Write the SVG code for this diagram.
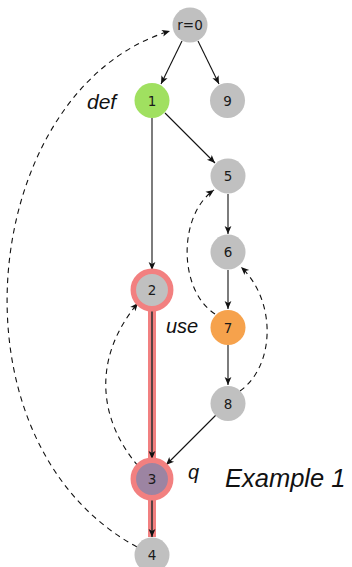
<svg xmlns="http://www.w3.org/2000/svg" width="352" height="567" viewBox="0 0 352 567">
  <style>
    .node { stroke: none; }
    .gray { fill: #c0c0c0; }
    .ring { stroke: #f28080; stroke-width: 5.5; }
    .nlabel { font-family: "DejaVu Sans", sans-serif; font-size: 13.5px; fill: #1a1a1a; text-anchor: middle; dominant-baseline: central; }
    .tag { font-family: "Liberation Sans", Arial, sans-serif; font-style: italic; fill: #111; }
    .edge { fill: none; stroke: #111; stroke-width: 1.1; }
    .dash { fill: none; stroke: #111; stroke-width: 1.1; stroke-dasharray: 5.5 4.5; }
    .band { fill: none; stroke: #f28080; stroke-width: 8; }
    .core { fill: none; stroke: #333; stroke-width: 1.6; }
  </style>
  <defs>
    <marker id="arrow" markerUnits="userSpaceOnUse" markerWidth="12" markerHeight="12" refX="8" refY="4" orient="auto" overflow="visible">
      <path d="M0,0.6 L8,4 L0,7.4 L2,4 Z" fill="#111"/>
    </marker>
  </defs>

  <!-- connectors -->
  <g id="edges">
    <!-- highlighted path 2 -> 3 -> 4 -->
    <line class="band" x1="152" y1="310" x2="152" y2="458"/>
    <line class="band" x1="152" y1="500" x2="152" y2="537"/>
    <line class="core" x1="152" y1="310" x2="152" y2="459" marker-end="url(#arrow)"/>
    <line class="core" x1="152" y1="500" x2="152" y2="537" marker-end="url(#arrow)"/>

    <!-- solid edges -->
    <line class="edge" x1="182" y1="41" x2="161" y2="84" marker-end="url(#arrow)"/>
    <line class="edge" x1="198" y1="41" x2="219" y2="84" marker-end="url(#arrow)"/>
    <line class="edge" x1="165" y1="113" x2="215" y2="163" marker-end="url(#arrow)"/>
    <line class="edge" x1="152" y1="118" x2="152" y2="270" stroke="#555" marker-end="url(#arrow)"/>
    <line class="edge" x1="228" y1="194" x2="228" y2="234" marker-end="url(#arrow)"/>
    <line class="edge" x1="228" y1="270" x2="228" y2="309" marker-end="url(#arrow)"/>
    <line class="edge" x1="228" y1="345" x2="228" y2="385" marker-end="url(#arrow)"/>
    <line class="edge" x1="216" y1="415" x2="166" y2="465" marker-end="url(#arrow)"/>

    <!-- dashed back edges -->
    <path class="dash" d="M137,547 C-60,440 -20,88 170,31" marker-end="url(#arrow)"/>
    <path class="dash" d="M138,466 C95,415 95,354 138,303" marker-end="url(#arrow)"/>
    <path class="dash" d="M215,314 C178,290 178,215 214,190" marker-end="url(#arrow)"/>
    <path class="dash" d="M240,391 C276,365 276,300 241,267" marker-end="url(#arrow)"/>
  </g>

  <!-- nodes -->
  <g id="node-r0">
    <circle class="node gray" cx="190" cy="25" r="17.5"/>
    <text class="nlabel" x="190" y="25">r=0</text>
  </g>
  <g id="node-1">
    <circle class="node" cx="152" cy="100.5" r="17.5" fill="#a0e060"/>
    <text class="nlabel" x="152" y="100.5">1</text>
  </g>
  <g id="node-9">
    <circle class="node gray" cx="227.5" cy="100.5" r="17.5"/>
    <text class="nlabel" x="227.5" y="100.5">9</text>
  </g>
  <g id="node-5">
    <circle class="node gray" cx="228" cy="176" r="17.5"/>
    <text class="nlabel" x="228" y="176">5</text>
  </g>
  <g id="node-6">
    <circle class="node gray" cx="228" cy="252" r="17.5"/>
    <text class="nlabel" x="228" y="252">6</text>
  </g>
  <g id="node-2">
    <circle class="gray ring" cx="152" cy="290" r="18.7"/>
    <text class="nlabel" x="152" y="290">2</text>
  </g>
  <g id="node-7">
    <circle class="node" cx="228" cy="327.5" r="17.5" fill="#f6a24c"/>
    <text class="nlabel" x="228" y="327.5">7</text>
  </g>
  <g id="node-8">
    <circle class="node gray" cx="228" cy="403.5" r="17.5"/>
    <text class="nlabel" x="228" y="403.5">8</text>
  </g>
  <g id="node-3">
    <circle class="ring" cx="152" cy="479" r="18.7" fill="#9c84a2"/>
    <text class="nlabel" x="152" y="479">3</text>
  </g>
  <g id="node-4">
    <circle class="node gray" cx="152" cy="555" r="17.5"/>
    <text class="nlabel" x="152" y="555">4</text>
  </g>

  <!-- annotations -->
  <g id="labels">
    <text class="tag" x="87" y="109" font-size="21">def</text>
    <text class="tag" x="166" y="333" font-size="20">use</text>
    <text class="tag" x="188" y="479" font-size="20">q</text>
    <text class="tag" x="225" y="486.5" font-size="25.5">Example 1</text>
  </g>
</svg>
